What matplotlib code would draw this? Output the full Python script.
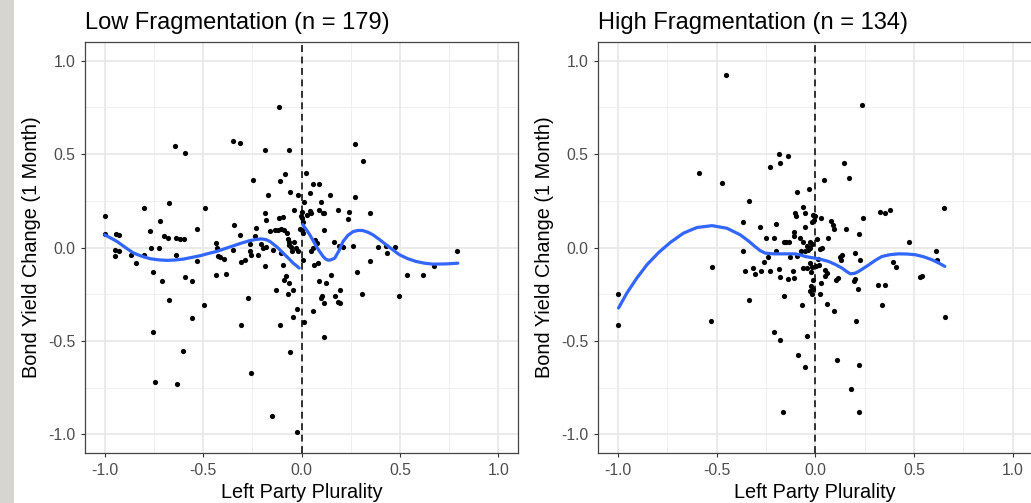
import matplotlib
matplotlib.use("Agg")
import matplotlib.pyplot as plt
from matplotlib.patches import Rectangle

plt.rcParams['font.family'] = ['Liberation Sans', 'DejaVu Sans']

# ---- Low fragmentation panel ----
low_x = [-1.00, -1.00, -0.945, -0.925, -0.946, -0.925, -0.95, -0.866, -0.842, -0.80,
         -0.80, -0.77, -0.764, -0.724, -0.752, -0.752, -0.744, -0.72, -0.709, -0.70,
         -0.68, -0.673, -0.673, -0.641, -0.59, -0.638, -0.618, -0.596, -0.638, -0.631,
         -0.604, -0.59, -0.558, -0.558, -0.533, -0.529, -0.49, -0.494, -0.432, -0.431,
         -0.425, -0.414, -0.396, -0.385, -0.435, -0.348, -0.31, -0.343, -0.348, -0.31,
         -0.305, -0.289, -0.272, -0.305, -0.257, -0.263, -0.263, -0.255, -0.222, -0.208,
         -0.196, -0.187, -0.246, -0.233, -0.238, -0.186, -0.064, -0.116, -0.169, -0.184,
         -0.18, -0.111, -0.086, -0.057, -0.019, -0.04, -0.115, -0.095, -0.162, -0.137,
         -0.12, -0.103, -0.091, -0.074, -0.069, -0.061, -0.052, -0.049, -0.064, -0.145,
         -0.103, -0.095, -0.182, -0.132, -0.078, -0.089, -0.061, -0.044, -0.069, -0.111,
         -0.15, -0.056, -0.044, -0.022, -0.022, -0.04, -0.03, -0.02, -0.01, -0.005,
         0.0, 0.024, 0.057, 0.091, 0.041, 0.015, 0.10, 0.145, 0.041, 0.049,
         0.088, 0.108, 0.116, 0.187, 0.24, 0.235, 0.349, 0.272, 0.314, 0.272,
         0.004, 0.027, 0.007, 0.113, 0.071, 0.078, 0.057, 0.049, 0.167, 0.189,
         0.209, 0.26, 0.391, 0.429, 0.432, 0.476, 0.79, 0.673, 0.538, 0.615,
         0.496, 0.348, 0.28, 0.305, 0.007, 0.066, 0.083, 0.15, 0.088, 0.125,
         0.105, 0.10, 0.113, 0.172, 0.184, 0.197, 0.196, 0.057, 0.015, 0.116,
         0.005, 0.01]
low_y = [0.17, 0.07, 0.07, 0.065, -0.016, -0.02, -0.045, -0.04, -0.083, 0.21,
         -0.04, 0.09, 0.0, 0.0, -0.13, -0.45, -0.72, 0.14, -0.18, 0.06,
         0.05, 0.24, -0.28, 0.543, 0.506, 0.05, 0.043, 0.043, -0.04, -0.73,
         -0.552, -0.158, -0.18, -0.38, 0.10, -0.07, 0.21, -0.31, 0.023, -0.003,
         -0.048, -0.053, -0.06, -0.14, -0.149, 0.571, 0.561, 0.12, -0.012, 0.068,
         -0.075, -0.066, -0.27, -0.413, -0.67, 0.02, -0.021, -0.039, -0.039, 0.02,
         -0.003, -0.101, 0.361, 0.104, 0.059, 0.522, 0.522, 0.753, 0.281, 0.184,
         0.148, 0.358, 0.392, 0.299, 0.281, 0.201, 0.157, 0.162, 0.089, 0.095,
         0.091, 0.098, 0.091, 0.077, 0.046, 0.032, 0.005, -0.018, 0.014, -0.012,
         -0.03, -0.092, 0.002, -0.23, -0.155, -0.172, -0.19, -0.23, -0.249, -0.413,
         -0.902, -0.559, -0.37, -0.33, -0.99, 0.03, 0.0, -0.02, 0.10, 0.17,
         0.19, 0.40, 0.34, 0.34, 0.29, 0.246, 0.246, 0.281, 0.198, 0.187,
         0.201, 0.184, 0.187, 0.201, 0.189, 0.152, 0.184, 0.552, 0.463, 0.272,
         0.157, 0.175, 0.139, 0.091, 0.041, 0.023, -0.003, -0.021, 0.032, 0.009,
         0.002, 0.009, 0.002, 0.009, -0.027, 0.002, -0.021, -0.101, -0.149, -0.149,
         -0.26, -0.071, -0.132, -0.247, -0.069, -0.092, -0.083, -0.149, -0.181, -0.19,
         -0.261, -0.27, -0.297, -0.261, -0.293, -0.297, -0.23, -0.342, -0.40, -0.48,
         0.094, 0.077]

# loess fit, drawn separately on each side of the cutoff
low_fit_left_x = [-1.0, -0.968, -0.937, -0.895, -0.853, -0.811, -0.769, -0.727, -0.684,
                  -0.642, -0.6, -0.557, -0.515, -0.473, -0.431, -0.389, -0.346, -0.304,
                  -0.262, -0.232, -0.204, -0.18, -0.16, -0.125, -0.093, -0.066, -0.042,
                  -0.025, -0.012]
low_fit_left_y = [0.068, 0.05, 0.032, 0.0, -0.03, -0.047, -0.06, -0.066, -0.069,
                  -0.067, -0.062, -0.053, -0.044, -0.032, -0.021, -0.006, 0.009, 0.024,
                  0.037, 0.043, 0.046, 0.042, 0.032, 0.003, -0.03, -0.058, -0.084,
                  -0.098, -0.11]
low_fit_right_x = [0.006, 0.024, 0.042, 0.059, 0.076, 0.093, 0.11, 0.123, 0.135,
                   0.15, 0.169, 0.19, 0.211, 0.236, 0.262, 0.286, 0.31, 0.337,
                   0.363, 0.397, 0.431, 0.465, 0.498, 0.54, 0.583, 0.625, 0.667,
                   0.73, 0.794]
low_fit_right_y = [0.123, 0.097, 0.068, 0.037, 0.005, -0.023, -0.048, -0.062, -0.068,
                   -0.066, -0.057, -0.018, 0.032, 0.065, 0.085, 0.091, 0.091, 0.082,
                   0.068, 0.042, 0.014, -0.013, -0.039, -0.06, -0.075, -0.084, -0.089,
                   -0.088, -0.084]

# ---- High fragmentation panel ----
high_x = [-0.452, 0.237, -0.186, -0.139, -0.178, -0.228, 0.144, -0.587, -0.474, 0.651,
          0.33, 0.352, 0.377, 0.242, 0.474, 0.613, 0.618, 0.394, 0.409, 0.538,
          0.53, 0.318, 0.355, 0.338, 0.656, -0.528, -1.0, -1.0, -0.525, -0.211,
          -0.178, -0.042, -0.085, -0.051, 0.11, 0.223, 0.181, -0.161, 0.22, 0.223,
          0.228, 0.2, 0.203, 0.194, 0.215, 0.206,
          0.042, 0.172, -0.093, -0.034, -0.333, -0.062, -0.101, -0.098, -0.051, -0.012,
          0.0, 0.029, -0.017, -0.005, 0.081, 0.09, 0.096, -0.051, 0.157, -0.366,
          -0.278, -0.199, -0.248, -0.208, -0.16, -0.147, -0.135, -0.11, -0.106, -0.076,
          -0.062, -0.025, -0.014, 0.008, 0.064, -0.025, -0.037, -0.051, 0.022, -0.366,
          -0.197, -0.241, -0.127, 0.123, 0.135, 0.13, -0.262, -0.062, -0.042, -0.025,
          -0.017, 0.005, 0.017, 0.047, 0.059, 0.051, -0.358, -0.316, -0.304, -0.275,
          -0.231, -0.186, -0.177, -0.14, -0.113, -0.11, -0.02, -0.012, 0.03, 0.106,
          0.113, -0.022, -0.012, -0.025, -0.017, 0.022, -0.333, -0.16, 0.062, -0.066,
          0.096, -0.04, 0.012, -0.07, 0.035, -0.09]
high_y = [0.922, 0.762, 0.5, 0.491, 0.45, 0.429, 0.45, 0.4, 0.343, 0.21,
          0.192, 0.183, 0.201, 0.16, 0.028, -0.021, -0.069, -0.08, -0.107, -0.151,
          -0.16, -0.203, -0.203, -0.31, -0.372, -0.391, -0.249, -0.413, -0.107, -0.45,
          -0.493, -0.472, -0.575, -0.641, -0.603, -0.63, -0.76, -0.881, -0.881, 0.071,
          -0.066, -0.03, -0.169, -0.178, -0.221, -0.391,
          0.361, 0.37, 0.299, 0.312, 0.251, 0.219, 0.184, 0.169, 0.184, 0.175,
          0.166, 0.16, 0.139, 0.148, 0.143, 0.121, 0.098, 0.109, 0.1, 0.134,
          0.109, 0.125, 0.05, 0.05, 0.032, 0.032, 0.032, 0.085, 0.062, 0.05,
          0.032, 0.032, 0.02, 0.045, 0.05, -0.003, -0.016, -0.021, -0.009, -0.018,
          -0.018, -0.051, -0.051, -0.051, -0.039, -0.066, -0.08, -0.11, -0.11, -0.083,
          -0.105, -0.101, -0.092, -0.119, -0.137, -0.155, -0.128, -0.11, -0.14, -0.128,
          -0.128, -0.115, -0.158, -0.169, -0.128, -0.164, -0.133, -0.172, -0.19, -0.172,
          -0.164, -0.208, -0.222, -0.235, -0.247, -0.247, -0.279, -0.262, -0.301, -0.31,
          -0.342, 0.01, -0.06, -0.02, 0.0, -0.045]

high_fit_x = [-0.996, -0.954, -0.903, -0.852, -0.793, -0.734, -0.667, -0.599, -0.523,
              -0.447, -0.38, -0.338, -0.305, -0.28, -0.254, -0.21, -0.169, -0.135,
              -0.102, -0.075, -0.051, -0.025, 0.0, 0.034, 0.068, 0.1, 0.135, 0.158,
              0.178, 0.2, 0.22, 0.245, 0.271, 0.305, 0.338, 0.38, 0.423, 0.466,
              0.508, 0.55, 0.592, 0.625, 0.656]
high_fit_y = [-0.324, -0.244, -0.163, -0.092, -0.027, 0.027, 0.077, 0.107, 0.117,
              0.103, 0.068, 0.035, 0.005, -0.016, -0.03, -0.034, -0.034, -0.034,
              -0.034, -0.04, -0.048, -0.053, -0.057, -0.065, -0.075, -0.09, -0.11,
              -0.128, -0.141, -0.138, -0.128, -0.111, -0.093, -0.068, -0.048, -0.038,
              -0.034, -0.035, -0.039, -0.05, -0.066, -0.083, -0.101]

titles = ["Low Fragmentation (n = 179)", "High Fragmentation (n = 134)"]
ticks = [-1.0, -0.5, 0.0, 0.5, 1.0]
minor_ticks = [-0.75, -0.25, 0.25, 0.75]
tick_labels = ["-1.0", "-0.5", "0.0", "0.5", "1.0"]

W, H = 1031, 503
fig = plt.figure(figsize=(W / 100, H / 100), dpi=100)

# textured strip on the far left edge
fig.patches.append(Rectangle((0, 0), 14 / W, 1, transform=fig.transFigure,
                             facecolor="#d7d5d0", edgecolor="none", zorder=0))

ax1 = fig.add_axes([85 / W, 50 / H, 433 / W, 411 / H])
ax2 = fig.add_axes([598 / W, 50 / H, 434.5 / W, 411 / H])

blue = "#3366FF"

def style(ax, title):
    ax.set_xlim(-1.1, 1.1)
    ax.set_ylim(-1.1, 1.1)
    ax.set_xticks(ticks)
    ax.set_yticks(ticks)
    ax.set_xticklabels(tick_labels)
    ax.set_yticklabels(tick_labels)
    ax.set_xticks(minor_ticks, minor=True)
    ax.set_yticks(minor_ticks, minor=True)
    ax.tick_params(which="minor", length=0)
    ax.tick_params(which="major", length=3, width=0.8, color="#333333",
                   labelcolor="#4d4d4d", labelsize=11.3, pad=4)
    ax.grid(which="major", color="#e8e8e8", linewidth=1.2)
    ax.grid(which="minor", color="#efefef", linewidth=0.7)
    ax.set_axisbelow(True)
    for s in ax.spines.values():
        s.set_color("#444444")
        s.set_linewidth(0.9)
    ax.set_xlabel("Left Party Plurality", fontsize=14.3, labelpad=4)
    ax.set_ylabel("Bond Yield Change (1 Month)", fontsize=14.3, labelpad=5)
    ax.set_title(title, loc="left", fontsize=17, pad=9.5)
    ax.axvline(0, color="black", linewidth=1.1, dashes=(4.5, 3), zorder=2)

style(ax1, titles[0])
ax1.scatter(low_x, low_y, s=14, color="black", linewidths=0, zorder=3)
ax1.plot(low_fit_left_x, low_fit_left_y, color=blue, linewidth=2.3, zorder=4,
         solid_capstyle="round", solid_joinstyle="round")
ax1.plot(low_fit_right_x, low_fit_right_y, color=blue, linewidth=2.3, zorder=4,
         solid_capstyle="round", solid_joinstyle="round")

style(ax2, titles[1])
ax2.scatter(high_x, high_y, s=14, color="black", linewidths=0, zorder=3)
ax2.plot(high_fit_x, high_fit_y, color=blue, linewidth=2.3, zorder=4,
         solid_capstyle="round", solid_joinstyle="round")

fig.savefig("out.png", dpi=100)
